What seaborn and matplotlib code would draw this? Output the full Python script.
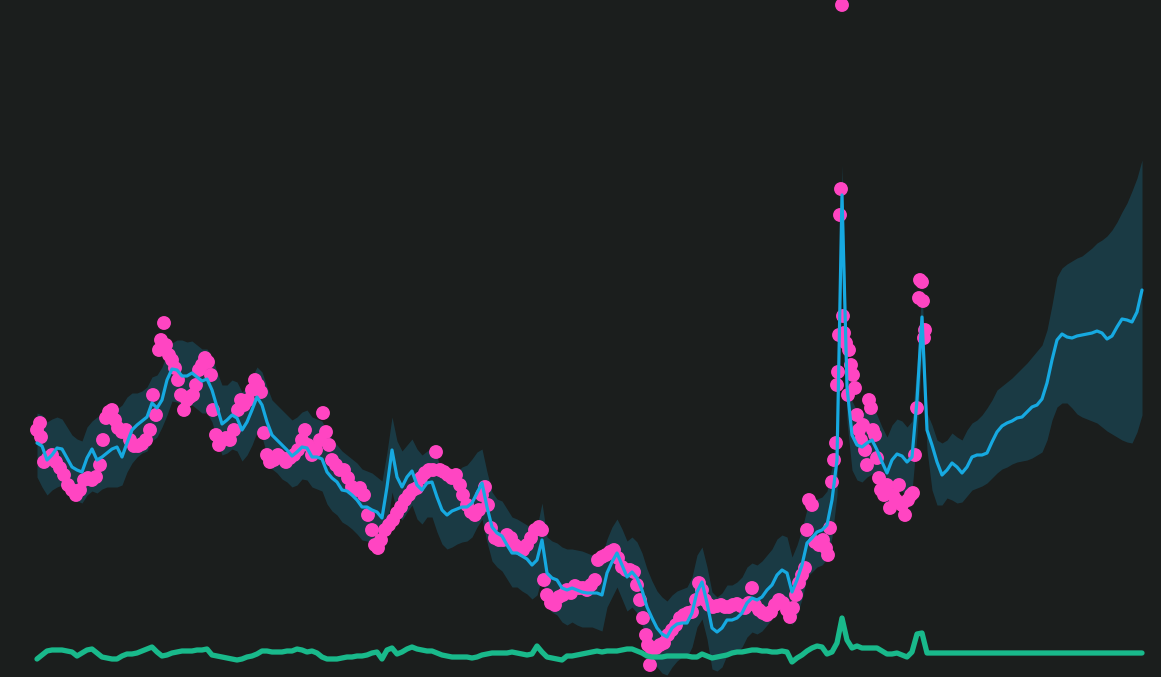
import numpy as np
import pandas as pd
import matplotlib
matplotlib.use("Agg")
import matplotlib.pyplot as plt
import seaborn as sns

# ---------------- data ----------------
fit_start_day = 37
fit_step_days = 5

yhat = [
    234, 231, 217, 222, 229, 228, 219, 210, 207, 205,
    219, 228, 217, 220, 224, 228, 230, 220, 234, 247,
    252, 256, 260, 274, 269, 277, 297, 308, 307, 301,
    301, 304, 300, 296, 298, 287, 270, 253, 257, 262,
    259, 247, 255, 267, 280, 272, 255, 242, 237, 232,
    227, 221, 225, 230, 229, 220, 220, 218, 205, 199,
    195, 187, 186, 182, 177, 170, 170, 167, 165, 159,
    190, 227, 200, 190, 200, 206, 192, 187, 194, 195,
    180, 167, 162, 166, 168, 170, 170, 174, 184, 194,
    170, 150, 144, 141, 132, 124, 124, 121, 118, 112,
    117, 137, 104, 99, 97, 89, 87, 89, 87, 85,
    84, 84, 84, 82, 104, 115, 124, 112, 100, 105,
    99, 87, 70, 59, 49, 43, 40, 49, 53, 54,
    54, 64, 85, 95, 74, 49, 45, 49, 57, 57,
    59, 64, 74, 79, 77, 80, 87, 92, 102, 107,
    104, 85, 97, 112, 134, 139, 145, 147, 152, 177,
    217, 482, 290, 242, 232, 230, 234, 237, 227, 215,
    204, 217, 223, 221, 215, 220, 277, 360, 247, 232,
    215, 202, 207, 214, 210, 204, 210, 220, 222, 222,
    224, 235, 245, 251, 254, 256, 259, 260, 265, 270,
    272, 278, 294, 317, 337, 343, 340, 339, 341, 342,
    343, 344, 346, 344, 338, 341, 350, 358, 357, 355,
    365, 387,
]

yhat_upper = [
    264, 262, 255, 258, 260, 258, 250, 242, 238, 236,
    250, 256, 260, 262, 264, 266, 268, 272, 280, 284,
    284, 286, 290, 300, 302, 310, 324, 334, 337, 337,
    335, 336, 332, 328, 328, 320, 305, 292, 292, 297,
    295, 285, 290, 300, 310, 305, 290, 277, 272, 267,
    262, 257, 260, 265, 267, 260, 258, 256, 245, 238,
    232, 226, 222, 218, 214, 208, 206, 204, 200, 196,
    225, 260, 236, 226, 232, 238, 228, 222, 226, 228,
    220, 205, 198, 200, 205, 210, 212, 218, 225, 228,
    205, 185, 178, 176, 168, 160, 158, 155, 152, 148,
    150, 174, 140, 136, 134, 130, 128, 128, 127, 126,
    124, 122, 122, 120, 138, 150, 158, 148, 136, 140,
    135, 124, 108, 96, 86, 80, 76, 82, 86, 88,
    90, 100, 122, 130, 110, 85, 80, 84, 92, 92,
    95, 100, 110, 114, 112, 116, 122, 128, 138, 142,
    140, 120, 132, 148, 168, 172, 178, 180, 186, 210,
    250, 512, 325, 276, 266, 263, 268, 272, 262, 250,
    240, 252, 258, 256, 250, 256, 312, 390, 264, 252,
    237, 234, 237, 244, 240, 237, 247, 254, 257, 262,
    269, 277, 287, 291, 295, 299, 304, 309, 314, 320,
    326, 332, 347, 372, 400, 409, 413, 416, 419, 421,
    425, 429, 434, 437, 441, 447, 455, 465, 474, 486,
    499, 517,
]

yhat_lower = [
    200, 190, 182, 187, 190, 192, 186, 178, 176, 174,
    182, 186, 184, 188, 190, 190, 190, 192, 205, 214,
    220, 224, 226, 236, 240, 250, 262, 276, 275, 272,
    270, 272, 268, 264, 264, 255, 238, 222, 224, 228,
    226, 216, 222, 232, 245, 240, 222, 208, 204, 198,
    195, 190, 192, 198, 197, 190, 188, 186, 173, 166,
    162, 155, 152, 148, 143, 137, 136, 133, 130, 125,
    150, 185, 165, 157, 165, 172, 158, 153, 160, 160,
    145, 133, 128, 130, 133, 135, 136, 140, 150, 158,
    135, 116, 110, 106, 98, 90, 90, 86, 83, 78,
    82, 100, 70, 65, 62, 55, 52, 55, 52, 50,
    50, 50, 48, 46, 70, 80, 90, 78, 66, 70,
    64, 52, 35, 22, 10, 4, 2, 10, 16, 20,
    20, 30, 50, 58, 38, 8, 6, 10, 22, 22,
    25, 30, 40, 45, 43, 46, 52, 58, 68, 72,
    70, 52, 62, 78, 100, 105, 110, 112, 118, 140,
    182, 450, 255, 207, 197, 195, 200, 203, 192, 180,
    170, 182, 188, 186, 180, 186, 242, 325, 227, 187,
    172, 172, 179, 177, 174, 175, 181, 187, 189, 191,
    194, 199, 204, 208, 210, 213, 215, 216, 217, 219,
    222, 225, 237, 257, 270, 274, 274, 269, 263, 260,
    258, 256, 254, 250, 246, 243, 240, 237, 235, 234,
    245, 262,
]

bottom_series = [
    18, 22, 26, 27, 27, 27, 26, 25, 21, 24,
    27, 28, 24, 20, 19, 18, 18, 21, 23, 23,
    24, 26, 28, 30, 25, 21, 22, 24, 25, 26,
    26, 26, 27, 27, 28, 22, 21, 20, 19, 18,
    17, 18, 20, 21, 23, 26, 26, 25, 25, 25,
    26, 26, 28, 27, 25, 26, 24, 20, 18, 18,
    18, 19, 20, 20, 21, 21, 22, 24, 25, 18,
    27, 29, 23, 25, 28, 30, 28, 27, 26, 26,
    24, 22, 21, 20, 20, 20, 20, 19, 20, 22,
    23, 24, 24, 24, 24, 25, 24, 23, 22, 23,
    31, 25, 20, 19, 18, 17, 21, 21, 22, 23,
    24, 25, 26, 25, 26, 26, 26, 27, 28, 28,
    26, 24, 21, 20, 20, 20, 21, 21, 21, 21,
    21, 20, 20, 23, 21, 19, 20, 21, 22, 24,
    25, 25, 26, 27, 27, 26, 26, 25, 25, 26,
    25, 15, 19, 22, 26, 29, 31, 30, 23, 25,
    34, 59, 37, 29, 31, 29, 29, 29, 29, 26,
    23, 23, 24, 22, 20, 25, 43, 44, 24, 24,
    24, 24, 24, 24, 24, 24, 24, 24, 24, 24,
    24, 24, 24, 24, 24, 24, 24, 24, 24, 24,
    24, 24, 24, 24, 24, 24, 24, 24, 24, 24,
    24, 24, 24, 24, 24, 24, 24, 24, 24, 24,
    24, 24,
]

obs_day = [
    37, 40, 41, 44, 48, 52, 56, 60, 64, 68, 72, 76, 80, 84, 88, 92, 96, 100,
    103, 106, 109, 112, 115, 118, 122, 126, 130, 134, 138, 142, 146, 150,
    153, 156, 159, 161, 164, 166, 169, 172, 175, 178, 181, 184, 187, 190,
    193, 196, 199, 202, 205, 208, 211, 213, 216, 219, 222, 226, 230, 234,
    238, 241, 244, 248, 252, 255, 258, 261, 264, 267, 270, 274, 278, 282,
    286, 290, 294, 298, 302, 305, 308, 312, 316, 320, 323, 326, 329, 332,
    336, 340, 344, 348, 352, 356, 360, 364, 368, 372, 375, 378, 381, 385,
    389, 393, 397, 401, 405, 409, 413, 417, 421, 425, 429, 433, 436, 440,
    444, 448, 452, 456, 460, 463, 467, 471, 475, 479, 482, 485, 488, 491,
    495, 499, 503, 507, 511, 515, 519, 523, 527, 531, 535, 539, 542, 544,
    547, 551, 555, 559, 563, 567, 571, 575, 579, 583, 587, 591, 595, 598,
    602, 606, 610, 614, 618, 622, 626, 630, 634, 637, 640, 643, 646, 648,
    650, 652, 656, 660, 664, 668, 672, 676, 680, 684, 688, 692, 696, 699,
    702, 705, 709, 713, 717, 721, 725, 729, 733, 737, 741, 745, 749, 752,
    755, 759, 763, 767, 771, 775, 779, 783, 787, 790, 793, 796, 799, 802,
    805, 807, 809, 812, 815, 819, 823, 826, 828, 830, 832, 834, 836, 837,
    838, 839, 840, 841, 842, 843, 844, 846, 848, 849, 851, 853, 855, 857,
    859, 861, 863, 865, 867, 869, 871, 873, 875, 877, 879, 881, 884, 887,
    890, 893, 896, 899, 902, 905, 908, 911, 913, 915, 917, 919, 920, 922,
    923, 924, 925,
]

obs_value = [
    247, 254, 240, 215, 219, 222, 215, 209, 202, 192, 187, 182, 187, 197, 199, 197, 200, 212,
    237, 259, 265, 267, 257, 249, 245, 247, 237, 231, 231, 233, 237, 247,
    282, 262, 327, 337, 354, 332, 322, 317, 309, 297, 282, 267, 277, 280,
    282, 292, 307, 312, 319, 315, 302, 267, 242, 232, 237, 239, 237, 247,
    267, 277, 272, 277, 287, 297, 292, 285, 244, 222, 215, 217, 222, 219,
    215, 219, 222, 227, 237, 247, 232, 222, 227, 237, 264, 245, 232, 217,
    212, 207, 207, 199, 190, 187, 189, 182, 162, 147, 132, 129, 137, 147,
    152, 157, 164, 170, 177, 182, 187, 189, 199, 204, 207, 207, 225, 207,
    205, 202, 199, 202, 192, 182, 172, 165, 162, 167, 182, 190, 172, 149,
    139, 137, 137, 142, 139, 132, 129, 127, 132, 139, 147, 150, 147, 97,
    82, 74, 72, 80, 82, 87, 84, 91, 89, 89, 87, 92, 97, 117,
    120, 122, 125, 127, 119, 110, 107, 107, 105, 92, 77, 59, 42, 32,
    12, 27, 29, 32, 34, 42, 47, 52, 59, 62, 64, 65, 77, 94,
    87, 77, 72, 70, 71, 72, 70, 70, 72, 73, 71, 69, 74, 89,
    72, 67, 64, 62, 65, 72, 77, 74, 67, 60, 69, 82, 94, 102,
    109, 147, 177, 172, 135, 132, 137, 129, 122, 149, 195, 217, 234, 292,
    305, 342, 462, 488, 672, 361, 344, 334, 282, 327, 312, 302, 289, 262,
    247, 237, 252, 227, 212, 277, 269, 247, 242, 219, 199, 187, 182, 192,
    169, 182, 177, 192, 172, 162, 177, 182, 184, 222, 269, 379, 397, 395,
    376, 339, 347,
]

# ---------------- frames ----------------
fit_day = fit_start_day + fit_step_days * np.arange(len(yhat))
fit = pd.DataFrame({
    "day": fit_day,
    "yhat": yhat,
    "yhat_upper": yhat_upper,
    "yhat_lower": yhat_lower,
    "bottom": bottom_series,
})
obs = pd.DataFrame({"day": obs_day, "value": obs_value})

# ---------------- style ----------------
BG = "#1b1e1d"
BAND = "#1a3a44"
PINK = "#ff45c2"
BLUE = "#16a9e1"
GREEN = "#19b98b"

sns.set_theme(style="dark", rc={"axes.facecolor": BG, "figure.facecolor": BG})

fig = plt.figure(figsize=(11.61, 6.77), dpi=100)
ax = fig.add_axes([0, 0, 1, 1])
ax.set_facecolor(BG)

ax.fill_between(fit["day"], fit["yhat_lower"], fit["yhat_upper"],
                color=BAND, linewidth=0, zorder=1)

sns.scatterplot(data=obs, x="day", y="value", ax=ax, color=PINK, s=100,
                linewidth=0, edgecolor="none", zorder=2, legend=False)

sns.lineplot(data=fit, x="day", y="yhat", ax=ax, color=BLUE, linewidth=2.3,
             zorder=3, legend=False)

sns.lineplot(data=fit, x="day", y="bottom", ax=ax, color=GREEN, linewidth=3.8,
             zorder=4, legend=False)

ax.set_xlim(0, 1161)
ax.set_ylim(0, 677)
ax.set_xlabel("")
ax.set_ylabel("")
ax.set_xticks([])
ax.set_yticks([])
for s in ax.spines.values():
    s.set_visible(False)
ax.grid(False)

fig.savefig("out.png", dpi=100, facecolor=BG)
